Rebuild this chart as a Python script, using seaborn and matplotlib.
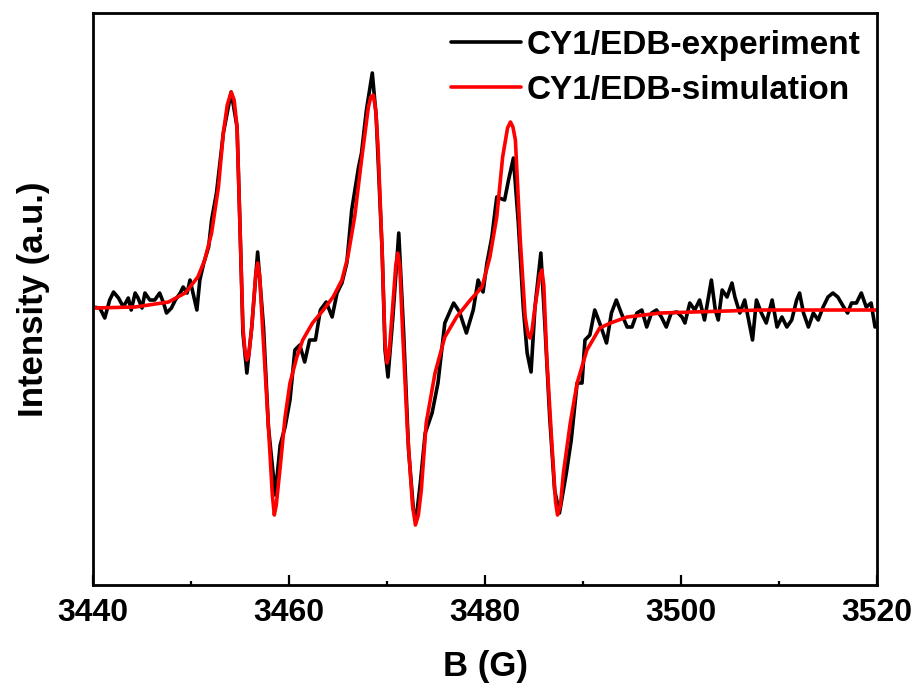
import matplotlib.pyplot as plt
import numpy as np
import pandas as pd
import seaborn as sns

# experiment trace (field in G, intensity in a.u.)
exp_field = [
    3440.0, 3440.7, 3441.2, 3441.7, 3442.1, 3442.6, 3443.1, 3443.6, 3443.9, 3444.3,
    3444.6, 3445.0, 3445.3, 3445.8, 3446.3, 3446.8, 3447.2, 3447.5, 3448.0, 3448.4,
    3448.9, 3449.2, 3449.6, 3449.9, 3450.2, 3450.6, 3450.9, 3451.3, 3451.8, 3452.1,
    3452.6, 3453.3, 3454.1, 3454.7, 3455.0, 3455.3, 3455.7, 3456.2, 3456.8, 3457.4,
    3457.9, 3458.6, 3459.1, 3459.6, 3460.1, 3460.6, 3461.1, 3461.6, 3462.1, 3462.7,
    3463.2, 3463.8, 3464.4, 3464.9, 3465.4, 3465.9, 3466.4, 3467.1, 3467.4, 3467.9,
    3468.5, 3468.9, 3469.5, 3469.8, 3470.1, 3470.6, 3471.2, 3471.7, 3472.2, 3472.7,
    3473.0, 3473.4, 3473.9, 3474.6, 3475.2, 3475.9, 3476.8, 3477.4, 3478.1, 3478.8,
    3479.3, 3479.8, 3480.2, 3480.7, 3481.2, 3482.0, 3482.4, 3482.9, 3483.4, 3483.9,
    3484.3, 3484.7, 3485.1, 3485.7, 3486.1, 3486.6, 3487.1, 3487.6, 3488.3, 3488.8,
    3489.4, 3489.9, 3490.2, 3490.7, 3491.2, 3491.7, 3492.4, 3492.9, 3493.4, 3493.9,
    3494.5, 3495.0, 3495.5, 3496.0, 3496.5, 3497.0, 3497.5, 3498.0, 3498.5, 3499.0,
    3499.6, 3500.1, 3500.4, 3500.9, 3501.4, 3501.9, 3502.4, 3502.8, 3503.1, 3503.5,
    3503.8, 3504.2, 3504.7, 3505.2, 3505.5, 3506.0, 3506.5, 3506.9, 3507.3, 3507.7,
    3508.2, 3508.7, 3509.3, 3509.8, 3510.3, 3510.8, 3511.3, 3511.8, 3512.1, 3512.5,
    3513.0, 3513.5, 3514.0, 3514.5, 3515.0, 3515.5, 3516.0, 3516.6, 3517.0, 3517.4,
    3517.9, 3518.4, 3518.9, 3519.4, 3519.8,
]
exp_intensity = [
    3, 2, -8, 10, 18, 12, 3, 12, 0, 17,
    12, 2, 17, 10, 10, 17, 7, -3, 2, 10,
    17, 23, 17, 30, 17, 0, 30, 47, 63, 90,
    117, 177, 218, 183, 83, -23, -63, -17, 58, -17,
    -117, -185, -135, -117, -90, -40, -35, -52, -30, -30,
    0, 8, -7, 17, 27, 47, 100, 143, 157, 200,
    237, 193, 60, -40, -67, -7, 77, -23, -140, -200,
    -207, -173, -123, -103, -73, -13, 7, -2, -23, 0,
    30, 18, 47, 73, 113, 110, 130, 152, 87, 3,
    -43, -62, 3, 57, -13, -107, -180, -203, -163, -130,
    -73, -73, -30, -25, 0, -13, -33, -3, 10, -3,
    -17, -17, -3, 0, -17, -3, 0, -7, -17, -3,
    -2, -7, -13, 7, 0, 10, -10, 13, 30, 0,
    -10, 20, 13, 27, 13, -3, 10, -10, -30, 10,
    -3, -13, 10, -17, -7, -17, -10, 10, 17, -3,
    -17, -3, -10, 3, 13, 17, 13, 3, -3, 7,
    7, 17, 3, 7, -17,
]

# simulated spectrum
sim_field = [
    3440.0, 3444.3, 3447.7, 3449.4, 3450.7, 3451.4, 3452.1, 3452.8, 3453.3, 3453.7,
    3454.1, 3454.4, 3454.7, 3455.0, 3455.3, 3455.5, 3455.7, 3455.9, 3456.2, 3456.6,
    3456.8, 3457.0, 3457.3, 3457.9, 3458.3, 3458.5, 3458.7, 3459.1, 3459.6, 3460.1,
    3460.8, 3461.4, 3462.4, 3463.5, 3464.5, 3465.4, 3466.0, 3466.7, 3467.4, 3468.1,
    3468.35, 3468.6, 3468.85, 3469.1, 3469.5, 3469.8, 3470.0, 3470.2, 3470.5, 3470.9,
    3471.1, 3471.3, 3471.6, 3472.1, 3472.6, 3472.9, 3473.2, 3473.5, 3474.0, 3474.9,
    3475.9, 3477.1, 3478.5, 3479.7, 3480.5, 3481.2, 3481.8, 3482.3, 3482.6, 3482.85,
    3483.1, 3483.6, 3484.1, 3484.4, 3484.6, 3484.8, 3485.1, 3485.6, 3485.8, 3486.0,
    3486.3, 3486.8, 3487.2, 3487.4, 3487.7, 3488.0, 3488.7, 3489.4, 3490.4, 3491.0,
    3491.7, 3492.8, 3494.5, 3497.9, 3501.2, 3508.1, 3520.0,
]
sim_intensity = [
    2, 3, 8, 17, 33, 50, 77, 123, 177, 205,
    218, 210, 183, 83, -17, -40, -50, -45, -17, 35,
    47, 35, -17, -117, -185, -205, -195, -157, -107, -73,
    -47, -30, -13, 0, 13, 30, 53, 93, 150, 203,
    213, 215, 200, 160, 60, -33, -53, -45, -7, 45,
    57, 45, -23, -123, -195, -215, -205, -180, -113, -63,
    -27, -7, 10, 23, 53, 93, 153, 182, 188, 183,
    170, 70, -7, -25, -28, -20, 3, 35, 40, 25,
    -47, -130, -192, -205, -195, -163, -113, -73, -40, -30,
    -18, -13, -7, -3, -2, 0, 0,
]

series_names = ['CY1/EDB-experiment', 'CY1/EDB-simulation']
series_colors = ['black', 'red']

df = pd.concat([
    pd.DataFrame({'B': exp_field, 'I': exp_intensity, 'series': series_names[0]}),
    pd.DataFrame({'B': sim_field, 'I': sim_intensity, 'series': series_names[1]}),
])

sns.set_style('white')
plt.rcParams['font.family'] = ['Liberation Sans', 'DejaVu Sans']
plt.rcParams['font.weight'] = 'bold'
plt.rcParams['text.color'] = 'black'
plt.rcParams['axes.labelcolor'] = 'black'
plt.rcParams['xtick.color'] = 'black'

fig = plt.figure(figsize=(9.19, 6.92), dpi=100)
ax = fig.add_axes([0.1012, 0.1546, 0.8531, 0.8266])

sns.lineplot(data=df, x='B', y='I', hue='series', hue_order=series_names,
             palette=dict(zip(series_names, series_colors)),
             estimator=None, sort=False, linewidth=2.6, ax=ax)

ax.set_xlim(3440, 3520)
ax.set_ylim(-275, 297)
ax.set_xticks(np.arange(3440, 3521, 20))
ax.set_xticks(np.arange(3450, 3520, 20), minor=True)
ax.set_yticks([])
ax.tick_params(axis='x', which='major', direction='in', length=7, width=1.6,
               labelsize=23, pad=9, bottom=True, top=False)
ax.tick_params(axis='x', which='minor', direction='in', length=3, width=1.6,
               bottom=True, top=False)
for lbl in ax.get_xticklabels():
    lbl.set_fontweight('bold')

for sp in ax.spines.values():
    sp.set_linewidth(2.0)
    sp.set_color('black')

ax.set_xlabel('B (G)', fontsize=25, fontweight='bold', labelpad=16)
ax.set_ylabel('Intensity (a.u.)', fontsize=25, fontweight='bold', labelpad=31)

leg = ax.legend(loc='upper right', bbox_to_anchor=(1.0, 1.0), frameon=False,
                fontsize=24, handlelength=2.1, handletextpad=0.15,
                labelspacing=0.42, borderaxespad=0.1)
for t in leg.get_texts():
    t.set_fontweight('bold')
for h in leg.get_lines():
    h.set_linewidth(2.6)

fig.savefig('out.png', dpi=100)
